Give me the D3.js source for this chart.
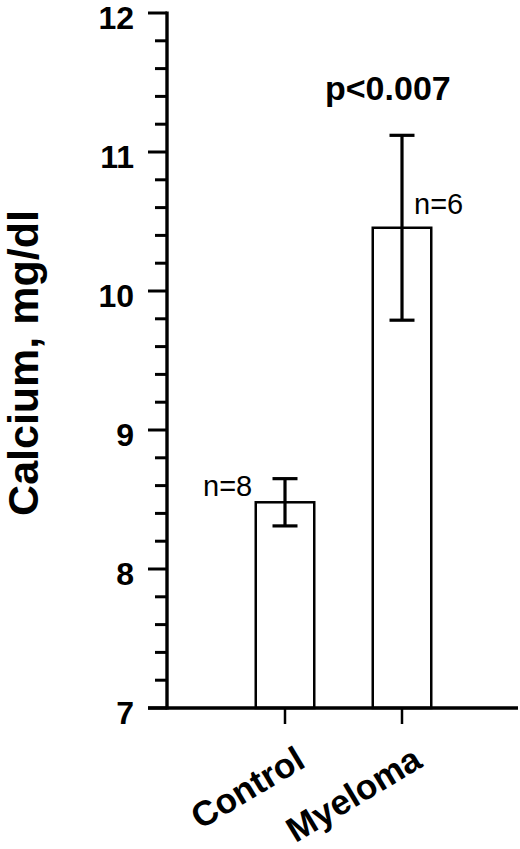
<!DOCTYPE html>
<html>
<head>
<meta charset="utf-8">
<script src="https://cdn.jsdelivr.net/npm/d3@7"></script>
<style>
  html, body { margin: 0; padding: 0; background: #fff; }
  svg { display: block; }
  text { font-family: "Liberation Sans", Arial, Helvetica, sans-serif; fill: #000; }
</style>
</head>
<body>
<svg id="chart" width="520" height="849"></svg>
<script>
const categories = ["Control", "Myeloma"];
const means = [8.48, 10.455];
const errors = [0.17, 0.665];
const nLabels = ["n=8", "n=6"];
const yTickValues = [7, 8, 9, 10, 11, 12];
const pLabel = "p<0.007";
const yTitle = "Calcium, mg/dl";

const svg = d3.select("#chart");

const y = d3.scaleLinear().domain([7, 12]).range([708, 13]);
const x = d3.scaleBand().domain(categories).range([226.5, 460.5])
  .paddingInner(0.5).paddingOuter(0.25);
const axisX = 167;

// y axis minor ticks
const minor = y.ticks(25).filter(v => !yTickValues.includes(v));
svg.append("g").selectAll("line").data(minor).join("line")
  .attr("x1", axisX - 12).attr("x2", axisX)
  .attr("y1", d => y(d)).attr("y2", d => y(d))
  .attr("stroke", "#000").attr("stroke-width", 3);

// major ticks
svg.append("g").selectAll("line").data(yTickValues).join("line")
  .attr("x1", axisX - 19).attr("x2", axisX)
  .attr("y1", d => y(d)).attr("y2", d => y(d))
  .attr("stroke", "#000").attr("stroke-width", 3);

// tick labels
svg.append("g").selectAll("text").data(yTickValues).join("text")
  .attr("x", 134).attr("y", d => y(d)).attr("dy", "0.5em")
  .attr("text-anchor", "end")
  .style("font-size", "32px").style("font-weight", "bold")
  .text(d => d);

// bars
svg.append("g").selectAll("rect").data(categories).join("rect")
  .attr("x", d => x(d)).attr("width", x.bandwidth())
  .attr("y", (d, i) => y(means[i]))
  .attr("height", (d, i) => y(7) - y(means[i]))
  .attr("fill", "#fff").attr("stroke", "#000").attr("stroke-width", 2.5);

// error bars
const eb = svg.append("g").selectAll("g").data(categories).join("g");
eb.append("line")
  .attr("x1", d => x(d) + x.bandwidth() / 2).attr("x2", d => x(d) + x.bandwidth() / 2)
  .attr("y1", (d, i) => y(means[i] + errors[i])).attr("y2", (d, i) => y(means[i] - errors[i]))
  .attr("stroke", "#000").attr("stroke-width", 3.2);
[1, -1].forEach(s => {
  eb.append("line")
    .attr("x1", d => x(d) + x.bandwidth() / 2 - 12.5).attr("x2", d => x(d) + x.bandwidth() / 2 + 12.5)
    .attr("y1", (d, i) => y(means[i] + s * errors[i])).attr("y2", (d, i) => y(means[i] + s * errors[i]))
    .attr("stroke", "#000").attr("stroke-width", 3.2);
});

// y axis line
svg.append("line")
  .attr("x1", axisX).attr("x2", axisX).attr("y1", y(12) - 1.5).attr("y2", y(7) + 1.5)
  .attr("stroke", "#000").attr("stroke-width", 3.4);
// x axis line
svg.append("line")
  .attr("x1", axisX - 19).attr("x2", 518).attr("y1", y(7)).attr("y2", y(7))
  .attr("stroke", "#000").attr("stroke-width", 3.4);

// category ticks
svg.append("g").selectAll("line").data(categories).join("line")
  .attr("x1", d => x(d) + x.bandwidth() / 2).attr("x2", d => x(d) + x.bandwidth() / 2)
  .attr("y1", y(7)).attr("y2", y(7) + 16)
  .attr("stroke", "#000").attr("stroke-width", 2.5);

// category labels
svg.append("g").selectAll("text").data(categories).join("text")
  .attr("transform", d => `translate(${x(d) + x.bandwidth() / 2 + 22},766) rotate(-31)`)
  .attr("text-anchor", "end")
  .style("font-size", "35px").style("font-weight", "bold")
  .text(d => d);

// n labels
svg.append("text").attr("x", 203).attr("y", 496)
  .style("font-size", "29px").text(nLabels[0]);
svg.append("text").attr("x", 414).attr("y", 214)
  .style("font-size", "29px").text(nLabels[1]);

// p label
svg.append("text").attr("x", 325).attr("y", 100)
  .style("font-size", "34px").style("font-weight", "bold").text(pLabel);

// y title
svg.append("text")
  .attr("transform", "translate(38,363) rotate(-90)")
  .attr("text-anchor", "middle")
  .style("font-size", "43px").style("font-weight", "bold")
  .text(yTitle);
</script>
</body>
</html>
